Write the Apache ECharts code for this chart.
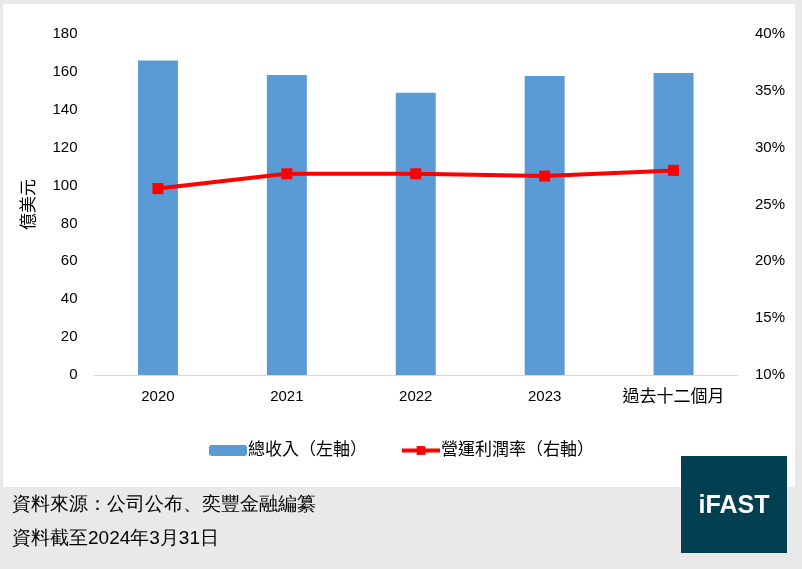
<!DOCTYPE html>
<html>
<head>
<meta charset="utf-8">
<script src="https://cdn.jsdelivr.net/npm/echarts@6/dist/echarts.min.js"></script>
<style>
  html, body { margin: 0; padding: 0; background: #e9e9e9; }
  #chart { width: 802px; height: 569px; }
</style>
</head>
<body>
<div id="chart"></div>
<script>
// data
var categories = ['2020', '2021', '2022', '2023', '過去十二個月']
var revenue = [166, 158.4, 149, 157.8, 159.4]      // 億美元, left axis
var opMargin = [26.4, 27.7, 27.7, 27.5, 28.0]      // %, right axis
var seriesNames = ['總收入（左軸）', '營運利潤率（右軸）']
var footerLines = ['資料來源：公司公布、奕豐金融編纂', '資料截至2024年3月31日']

var font = "'Liberation Sans', 'Noto Sans CJK TC', sans-serif"

var chart = echarts.init(document.getElementById('chart'))

var option = {
  backgroundColor: '#e9e9e9',
  animation: false,
  textStyle: { fontFamily: font, color: '#000' },
  grid: { left: 93.5, right: 64, top: 34, bottom: 194 },
  legend: {
    left: 204,
    top: 437,
    itemWidth: 38,
    itemHeight: 11,
    itemGap: 33,
    lineStyle: { width: 4 },
    textStyle: { fontSize: 17, color: '#000', fontFamily: font, padding: [0, 0, 0, -4] },
    data: seriesNames
  },
  xAxis: {
    type: 'category',
    data: categories,
    axisLine: { lineStyle: { color: '#d9d9d9', width: 1 } },
    axisTick: { show: false },
    axisLabel: {
      interval: 0,
      margin: 14,
      fontSize: 15,
      color: '#000',
      formatter: function (v) {
        return /^\d+$/.test(v) ? v : '{c|' + v + '}'
      },
      rich: { c: { fontSize: 17, color: '#000', fontFamily: font } }
    }
  },
  yAxis: [
    {
      type: 'value',
      min: 0, max: 180, interval: 20,
      name: '億美元',
      nameLocation: 'middle',
      nameRotate: 90,
      nameGap: 56,
      nameTextStyle: { fontSize: 17, color: '#000' },
      splitLine: { show: false },
      axisLine: { show: false },
      axisTick: { show: false },
      axisLabel: { fontSize: 15, color: '#000', margin: 16 }
    },
    {
      type: 'value',
      min: 10, max: 40, interval: 5,
      position: 'right',
      splitLine: { show: false },
      axisLine: { show: false },
      axisTick: { show: false },
      axisLabel: { fontSize: 15, color: '#000', margin: 17, formatter: '{value}%' }
    }
  ],
  series: [
    {
      name: seriesNames[0],
      type: 'bar',
      data: revenue,
      barWidth: 40,
      itemStyle: { color: '#5b9bd5' }
    },
    {
      name: seriesNames[1],
      type: 'line',
      yAxisIndex: 1,
      data: opMargin,
      symbol: 'rect',
      symbolSize: 11,
      lineStyle: { color: '#ff0000', width: 4 },
      itemStyle: { color: '#ff0000' }
    }
  ],
  graphic: [
    { type: 'rect', z: -10, silent: true, shape: { x: 3, y: 4, width: 792, height: 483 }, style: { fill: '#ffffff' } },
    { type: 'text', left: 12, top: 495, style: { text: footerLines[0], fontSize: 19, fill: '#000', font: '19px ' + font } },
    { type: 'text', left: 12, top: 529, style: { text: footerLines[1], fontSize: 19, fill: '#000', font: '19px ' + font } },
    { type: 'rect', z: 10, shape: { x: 681, y: 456, width: 106, height: 97 }, style: { fill: '#023f51' } },
    { type: 'text', z: 11, x: 734, y: 506, style: { text: 'iFAST', fill: '#ffffff', font: 'bold 25px ' + font, textAlign: 'center', textVerticalAlign: 'middle' } }
  ]
}

chart.setOption(option)
</script>
</body>
</html>
